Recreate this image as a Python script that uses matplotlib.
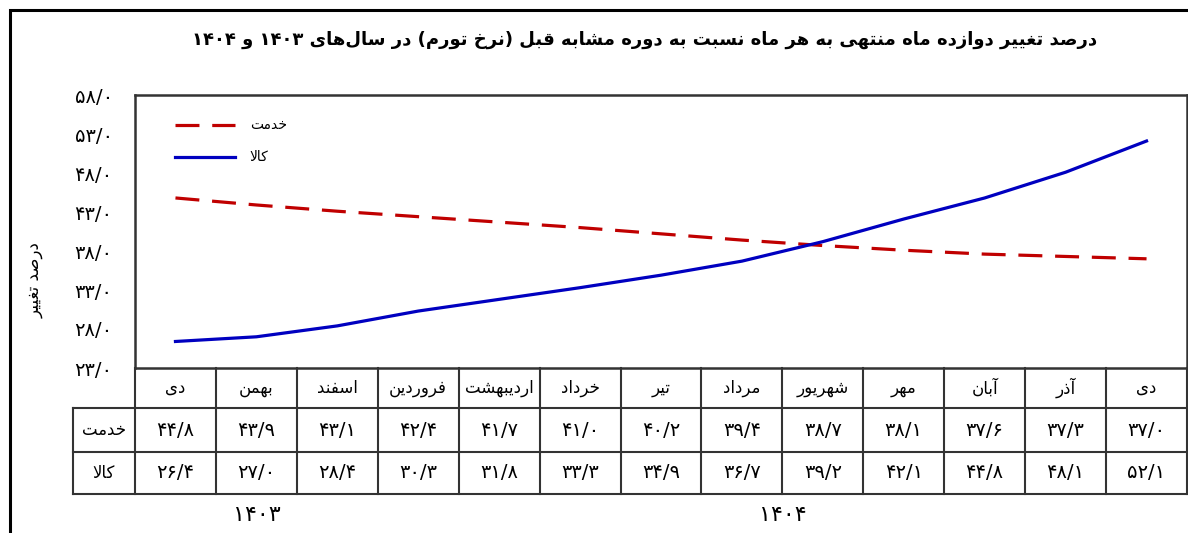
import re
import matplotlib
matplotlib.use('Agg')
import matplotlib.pyplot as plt
from matplotlib.patches import Rectangle
from matplotlib.ticker import FuncFormatter
from matplotlib.transforms import blended_transform_factory

plt.rcParams['font.family'] = ['DejaVu Sans']

# data
months = ['دی', 'بهمن', 'اسفند', 'فروردین', 'اردیبهشت', 'خرداد', 'تیر',
          'مرداد', 'شهریور', 'مهر', 'آبان', 'آذر', 'دی']
services = [44.8, 43.9, 43.1, 42.4, 41.7, 41.0, 40.2, 39.4, 38.7, 38.1, 37.6, 37.3, 37.0]
goods = [26.4, 27.0, 28.4, 30.3, 31.8, 33.3, 34.9, 36.7, 39.2, 42.1, 44.8, 48.1, 52.1]
series_names = ['خدمت', 'کالا']
y_ticks = [23, 28, 33, 38, 43, 48, 53, 58]
years = ['۱۴۰۳', '۱۴۰۴']
year_centers = [1, 7.5]
title = 'درصد تغییر دوازده ماه منتهی به هر ماه نسبت به دوره مشابه قبل (نرخ تورم) در سال\u200cهای ۱۴۰۳ و ۱۴۰۴'
ylabel = 'درصد تغییر'

# --- minimal Persian shaping (no arabic_reshaper available) ---
# isolated, final, initial, medial (0 = letter does not join forward)
FORMS = {
    'آ': (0xFE81, 0xFE82, 0, 0), 'ا': (0xFE8D, 0xFE8E, 0, 0),
    'ب': (0xFE8F, 0xFE90, 0xFE91, 0xFE92), 'ت': (0xFE95, 0xFE96, 0xFE97, 0xFE98),
    'خ': (0xFEA5, 0xFEA6, 0xFEA7, 0xFEA8), 'د': (0xFEA9, 0xFEAA, 0, 0),
    'ذ': (0xFEAB, 0xFEAC, 0, 0), 'ر': (0xFEAD, 0xFEAE, 0, 0),
    'ز': (0xFEAF, 0xFEB0, 0, 0), 'س': (0xFEB1, 0xFEB2, 0xFEB3, 0xFEB4),
    'ش': (0xFEB5, 0xFEB6, 0xFEB7, 0xFEB8), 'ص': (0xFEB9, 0xFEBA, 0xFEBB, 0xFEBC),
    'غ': (0xFECD, 0xFECE, 0xFECF, 0xFED0), 'ف': (0xFED1, 0xFED2, 0xFED3, 0xFED4),
    'ق': (0xFED5, 0xFED6, 0xFED7, 0xFED8), 'ل': (0xFEDD, 0xFEDE, 0xFEDF, 0xFEE0),
    'م': (0xFEE1, 0xFEE2, 0xFEE3, 0xFEE4), 'ن': (0xFEE5, 0xFEE6, 0xFEE7, 0xFEE8),
    'ه': (0xFEE9, 0xFEEA, 0xFEEB, 0xFEEC), 'و': (0xFEED, 0xFEEE, 0, 0),
    'ک': (0xFB8E, 0xFB8F, 0xFB90, 0xFB91), 'ی': (0xFBFC, 0xFBFD, 0xFBFE, 0xFBFF),
}
LAM_ALEF = {'ا': (0xFEFB, 0xFEFC), 'آ': (0xFEF5, 0xFEF6)}


def shape(text):
    units = []
    i = 0
    while i < len(text):
        if text[i] == 'ل' and i + 1 < len(text) and text[i + 1] in LAM_ALEF:
            units.append(('LA', text[i + 1]))
            i += 2
        else:
            units.append((text[i], None))
            i += 1
    out = []
    for k, (c, extra) in enumerate(units):
        prev = units[k - 1][0] if k > 0 else None
        nxt = units[k + 1][0] if k + 1 < len(units) else None
        prev_joins = prev in FORMS and FORMS[prev][2] != 0
        if c == 'LA':
            iso, fin = LAM_ALEF[extra]
            out.append(chr(fin if prev_joins else iso))
            continue
        if c not in FORMS:
            out.append(c)
            continue
        iso, fin, ini, med = FORMS[c]
        join_next = ini != 0 and (nxt == 'LA' or nxt in FORMS)
        if prev_joins and join_next:
            out.append(chr(med))
        elif prev_joins:
            out.append(chr(fin))
        elif join_next:
            out.append(chr(ini))
        else:
            out.append(chr(iso))
    return ''.join(out).replace('\u200c', '')


def fa(text):
    # shape, then put into visual (left-to-right) order, keeping numbers LTR
    runs = re.findall(r'[۰-۹0-9/]+|[^۰-۹0-9/]+', shape(text))
    vis = []
    for r in reversed(runs):
        if re.match(r'[۰-۹0-9/]', r):
            vis.append(r)
        else:
            vis.append(r[::-1].translate(str.maketrans('()', ')(')))
    return ''.join(vis)


def fa_num(v):
    s = f'{v:.1f}'.replace('.', '/')
    return s.translate(str.maketrans('0123456789', '۰۱۲۳۴۵۶۷۸۹'))


W, H = 1188, 533
fig = plt.figure(figsize=(W / 100, H / 100), dpi=100)


def px(x0, y0):
    return x0 / W, 1 - y0 / H


# outer frame (right and bottom edges fall outside the picture)
fig.patches.append(Rectangle((10 / W, -0.05), 1.1, 1.05 - 10 / H,
                             transform=fig.transFigure, fill=False,
                             edgecolor='black', linewidth=2.2))

ax_l, ax_t, ax_r, ax_b = 135, 95, 1187, 368
ax = fig.add_axes([ax_l / W, 1 - ax_b / H, (ax_r - ax_l) / W, (ax_b - ax_t) / H])

x = list(range(len(months)))
ax.plot(x, services, color='#C00000', linewidth=2.3, dashes=(7.5, 4), label=fa(series_names[0]))
ax.plot(x, goods, color='#0000C0', linewidth=2.3, label=fa(series_names[1]))

ax.set_xlim(-0.5, len(months) - 0.5)
ax.set_ylim(y_ticks[0], y_ticks[-1])
ax.set_yticks(y_ticks)
ax.yaxis.set_major_formatter(FuncFormatter(lambda v, p: fa_num(v)))
ax.tick_params(axis='y', length=0, pad=16, labelsize=14)
ax.set_xticks([])
for s in ax.spines.values():
    s.set_linewidth(1.8)
    s.set_color('#333333')

ax.legend(loc='upper left', bbox_to_anchor=(0.026, 0.96), frameon=False,
          handlelength=4.3, handletextpad=1.1, labelspacing=1.3, fontsize=10)

fig.text(*px(645, 40), fa(title), ha='center', va='center', fontsize=13, fontweight='bold')
fig.text(*px(35, 280), fa(ylabel), ha='center', va='center', rotation=90, fontsize=12)

# data table under the chart
tr = blended_transform_factory(ax.transData, fig.transFigure)
row_y = [368, 408, 452, 494]
lc = '#333333'
n = len(months)
for b in [i - 0.5 for i in range(n + 1)]:
    ax.plot([b, b], [px(0, row_y[0])[1], px(0, row_y[-1])[1]], transform=tr,
            color=lc, linewidth=1.5, clip_on=False)
for yy in row_y[1:]:
    fig.add_artist(plt.Line2D([73 / W, ax_r / W], [px(0, yy)[1]] * 2, color=lc, linewidth=1.5))
fig.add_artist(plt.Line2D([73 / W] * 2, [px(0, row_y[1])[1], px(0, row_y[-1])[1]], color=lc, linewidth=1.5))

for i, m in enumerate(months):
    ax.text(i, px(0, (row_y[0] + row_y[1]) / 2)[1], fa(m), transform=tr,
            ha='center', va='center', fontsize=12)
    ax.text(i, px(0, (row_y[1] + row_y[2]) / 2)[1], fa_num(services[i]), transform=tr,
            ha='center', va='center', fontsize=14)
    ax.text(i, px(0, (row_y[2] + row_y[3]) / 2)[1], fa_num(goods[i]), transform=tr,
            ha='center', va='center', fontsize=14)

for k, name in enumerate(series_names):
    fig.text((73 + ax_l) / 2 / W, px(0, (row_y[k + 1] + row_y[k + 2]) / 2)[1], fa(name),
             ha='center', va='center', fontsize=12)

for yr, c in zip(years, year_centers):
    ax.text(c, px(0, 515)[1], yr, transform=tr, ha='center', va='center', fontsize=16)

fig.savefig('out.png', dpi=100)
plt.close(fig)
